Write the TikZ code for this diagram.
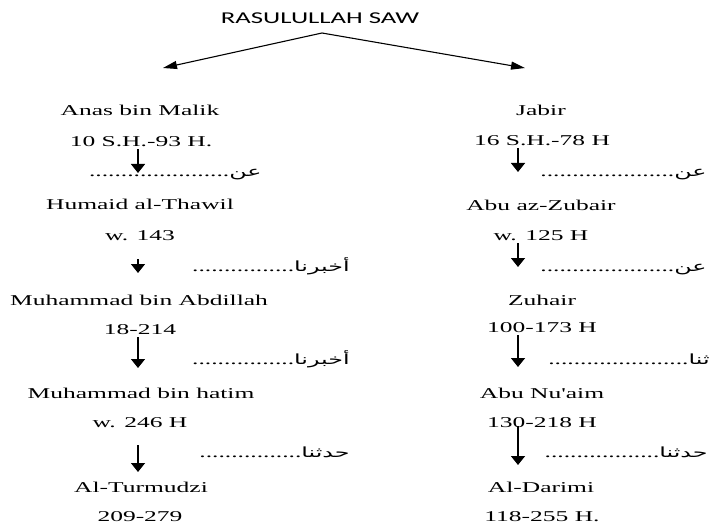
\documentclass[tikz,border=0pt]{standalone}
\usepackage{fontspec}
\setmainfont{Liberation Serif}
\newfontfamily\headfont{Carlito}
\newfontfamily\arabicfont[Script=Arabic]{DejaVu Sans}
\TeXXeTstate=1
\usetikzlibrary{positioning,arrows.meta}

\tikzset{
  rawi/.style={inner sep=2pt, xscale=1.7, font=\fontsize{15}{18}\selectfont},
  sanad/.style={inner sep=0pt, xscale=1.7, font=\fontsize{15}{18}\selectfont, anchor=base east},
  down/.style={-{Triangle[width=14pt,length=9pt]}, line width=1.6pt},
  branch/.style={-{Triangle[width=8pt,length=14pt]}, line width=1.1pt}
}
\newcommand{\ar}[1]{{\arabicfont\fontsize{14}{16}\selectfont\beginR #1\endR}}

\begin{document}
\begin{tikzpicture}[x=1pt, y=-1pt]
  \useasboundingbox (0,0) rectangle (710,524);

  \node[inner sep=1pt, xscale=1.62, font=\headfont\fontsize{16.5}{19}\selectfont] (rasul) at (320,18) {RASULULLAH SAW};
  \coordinate (apex) at (322,33);
  \coordinate (tipL) at (163,68);
  \coordinate (tipR) at (525,68);
  \draw[branch] (apex) -- (tipL);
  \draw[branch] (apex) -- (tipR);

  % jalur kiri
  \node[rawi] (anas) at (140,110) {Anas bin Malik};
  \node[rawi] (anasY) at (141,142) {10 S.H.-93 H.};
  \node[rawi] (humaid) at (140,204) {Humaid al-Thawil};
  \node[rawi] (humaidY) at (140,236) {w. 143};
  \node[rawi] (abd) at (139,300) {Muhammad bin Abdillah};
  \node[rawi] (abdY) at (140,330) {18-214};
  \node[rawi] (hatim) at (141,393) {Muhammad bin hatim};
  \node[rawi] (hatimY) at (140,423) {w. 246 H};
  \node[rawi] (turmudzi) at (141,487) {Al-Turmudzi};
  \node[rawi] (turmudziY) at (140,517) {209-279};

  \node[sanad] (sL1) at (262,177) {......................\ar{عن}};
  \node[sanad] (sL2) at (350,271) {................\ar{أخبرنا}};
  \node[sanad] (sL3) at (350,364) {................\ar{أخبرنا}};
  \node[sanad] (sL4) at (350,457) {................\ar{حدثنا}};

  \coordinate (aL1) at (138,173);
  \coordinate (aL2) at (138,273);
  \coordinate (aL3) at (138,368);
  \coordinate (aL4) at (138,472);
  \draw[down] (anasY.south -| aL1) -- (aL1);
  \draw[down, shorten <=16pt] (humaidY.south -| aL2) -- (aL2);
  \draw[down] (abdY.south -| aL3) -- (aL3);
  \draw[down, shorten <=15pt] (hatimY.south -| aL4) -- (aL4);

  % jalur kanan
  \node[rawi] (jabir) at (541,110) {Jabir};
  \node[rawi] (jabirY) at (542,141) {16 S.H.-78 H};
  \node[rawi] (zubair) at (541,205) {Abu az-Zubair};
  \node[rawi] (zubairY) at (541,236) {w. 125 H};
  \node[rawi] (zuhair) at (542,300) {Zuhair};
  \node[rawi] (zuhairY) at (542,328) {100-173 H};
  \node[rawi] (nuaim) at (542,393) {Abu Nu\textquotesingle aim};
  \node[rawi] (nuaimY) at (542,423) {130-218 H};
  \node[rawi] (darimi) at (541,487) {Al-Darimi};
  \node[rawi] (darimiY) at (542,517) {118-255 H.};

  \node[sanad] (sR1) at (707,177) {.....................\ar{عن}};
  \node[sanad] (sR2) at (707,271) {.....................\ar{عن}};
  \node[sanad] (sR3) at (710,364) {......................\ar{ثنا}};
  \node[sanad] (sR4) at (708,457) {..................\ar{حدثنا}};

  \coordinate (aR1) at (518,172);
  \coordinate (aR2) at (518,267);
  \coordinate (aR3) at (518,367);
  \coordinate (aR4) at (518,465);
  \draw[down] (jabirY.south -| aR1) -- (aR1);
  \draw[down] (zubairY.south -| aR2) -- (aR2);
  \draw[down] (zuhairY.south -| aR3) -- (aR3);
  \draw[down, shorten <=-4pt] (nuaimY.south -| aR4) -- (aR4);
\end{tikzpicture}
\end{document}
